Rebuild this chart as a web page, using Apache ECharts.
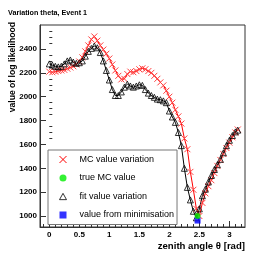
<!DOCTYPE html>
<html>
<head>
<meta charset="utf-8">
<script src="https://cdn.jsdelivr.net/npm/echarts@6/dist/echarts.min.js"></script>
<style>
html,body{margin:0;padding:0;background:#fff;}
#chart{width:267px;height:256px;}
</style>
</head>
<body>
<div id="chart"></div>
<script>
// ---- data ----
var theta = [0.00,0.05,0.10,0.15,0.20,0.25,0.30,0.35,0.40,0.45,0.50,0.55,0.60,0.65,0.70,0.75,0.80,0.85,0.90,0.95,
             1.00,1.05,1.10,1.15,1.20,1.25,1.30,1.35,1.40,1.45,1.50,1.55,1.60,1.65,1.70,1.75,1.80,1.85,1.90,1.95,
             2.00,2.05,2.10,2.15,2.20,2.25,2.30,2.35,2.40,2.45,2.50,2.55,2.60,2.65,2.70,2.75,2.80,2.85,2.90,2.95,
             3.00,3.05,3.10,3.14];
var mcValues = [2210,2205,2210,2215,2220,2225,2235,2245,2255,2270,2295,2330,2380,2430,2480,2505,2470,2430,2395,2360,
                2320,2270,2220,2175,2145,2150,2190,2210,2205,2215,2230,2238,2230,2215,2200,2175,2150,2120,2095,2050,
                2000,1950,1890,1835,1775,1650,1560,1370,1220,1060,1000,1110,1190,1250,1300,1360,1420,1470,1520,1570,
                1615,1660,1700,1725];
var fitValues = [2275,2265,2255,2250,2255,2275,2300,2308,2290,2280,2285,2300,2340,2380,2405,2425,2410,2370,2300,2220,
                 2140,2060,2010,2010,2040,2080,2105,2090,2080,2090,2100,2095,2060,2030,2010,1995,1980,1975,1965,1950,
                 1880,1830,1785,1700,1590,1400,1240,1135,1040,985,1060,1170,1225,1285,1340,1390,1430,1475,1530,1590,
                 1635,1675,1705,1720];
var trueMC = [[2.47, 1000]];
var minimisation = [[2.47, 962]];
var seriesNames = ['MC value variation','true MC value','fit value variation','value from minimisation'];
var xTickLabels = [0, 0.5, 1, 1.5, 2, 2.5, 3];
var yTickLabels = [1000, 1200, 1400, 1600, 1800, 2000, 2200, 2400];
var titleText = 'Variation theta, Event 1';
var xTitle = 'zenith angle \u03b8 [rad]';
var yTitle = 'value of log likelihood';

// ---- build ----
function zip(xs, ys){ return xs.map(function(x,i){ return [x, ys[i]]; }); }
var xMin = -0.155, xMax = 3.26, yMin = 908, yMax = 2601;
var xMinor = [], yMinor = [];
for (var i = -1; i <= 32; i++) { var v = i/10; if (i % 5 !== 0 && v > xMin && v < xMax) xMinor.push(v); }
for (var j = 19; j <= 52; j++) { var w = j*50; if (w % 200 !== 0 && w > yMin && w < yMax) yMinor.push(w); }

var XPATH = 'path://M0,0L10,10M10,0L0,10';
var TRI = 'path://M5,0L10,9L0,9Z';
var font = 'Liberation Sans, Arial, Helvetica, sans-serif';

var chart = echarts.init(document.getElementById('chart'), null, {renderer:'canvas'});
chart.setOption({
  animation: false,
  backgroundColor: '#fff',
  title: { text: titleText, left: 3, top: 5, textStyle: { fontFamily: font, fontSize: 7.2, fontWeight: 'bold', color: '#000' } },
  grid: { left: 40, top: 25, right: 22, bottom: 29, show: true, borderColor: '#333', borderWidth: 1, backgroundColor: 'transparent' },
  xAxis: [
    { type: 'value', min: xMin, max: xMax, splitLine: { show: false },
      axisLine: { show: true, onZero: false, lineStyle: { color: '#333', width: 1 } },
      axisTick: { show: true, inside: true, length: 6, customValues: xTickLabels, lineStyle: { color: '#333' } },
      axisLabel: { customValues: xTickLabels, margin: 4, fontFamily: font, fontSize: 8, fontWeight: 'bold', color: '#000',
                   formatter: function(v){ return String(v); } } },
    { type: 'value', min: xMin, max: xMax, position: 'bottom', splitLine: { show: false },
      axisLine: { show: false },
      axisTick: { show: true, inside: true, length: 3, customValues: xMinor, lineStyle: { color: '#333' } },
      axisLabel: { show: false } }
  ],
  yAxis: [
    { type: 'value', min: yMin, max: yMax, splitLine: { show: false },
      axisLine: { show: true, onZero: false, lineStyle: { color: '#333', width: 1 } },
      axisTick: { show: true, inside: true, length: 6, customValues: yTickLabels, lineStyle: { color: '#333' } },
      axisLabel: { customValues: yTickLabels, margin: 3, fontFamily: font, fontSize: 8, fontWeight: 'bold', color: '#000',
                   formatter: function(v){ return String(v); } } },
    { type: 'value', min: yMin, max: yMax, position: 'left', splitLine: { show: false },
      axisLine: { show: false },
      axisTick: { show: true, inside: true, length: 3, customValues: yMinor, lineStyle: { color: '#333' } },
      axisLabel: { show: false } }
  ],
  legend: {
    orient: 'vertical', left: 48, top: 150,
    padding: [4, 3, 4, 11], itemGap: 7.5, itemWidth: 7, itemHeight: 7,
    backgroundColor: '#fff', borderColor: '#777', borderWidth: 1, borderRadius: 0,
    textStyle: { fontFamily: font, fontSize: 9, color: '#000', padding: [0, 0, 0, 8], lineHeight: 11 },
    data: [
      { name: seriesNames[0], icon: XPATH, itemStyle: { color: 'rgba(0,0,0,0)', borderColor: '#ff0000', borderWidth: 1 } },
      { name: seriesNames[1], icon: 'circle', itemStyle: { color: '#00ee00', borderWidth: 0 } },
      { name: seriesNames[2], icon: TRI, itemStyle: { color: 'rgba(0,0,0,0)', borderColor: '#000', borderWidth: 0.8 } },
      { name: seriesNames[3], icon: 'rect', itemStyle: { color: '#0000ff', borderWidth: 0 } }
    ]
  },
  graphic: [
    { type: 'text', x: 245, y: 246, style: { text: xTitle, textAlign: 'right', textVerticalAlign: 'middle', font: 'bold 9.6px ' + font, fill: '#000' } },
    { type: 'text', x: 13, y: 22, rotation: Math.PI / 2, style: { text: yTitle, textAlign: 'right', textVerticalAlign: 'middle', font: 'bold 8.6px ' + font, fill: '#000' } }
  ],
  series: [
    { name: seriesNames[0], type: 'line', xAxisIndex: 0, yAxisIndex: 0, data: zip(theta, mcValues),
      symbol: XPATH, symbolSize: 6, showSymbol: true, showAllSymbol: true,
      lineStyle: { color: '#ff0000', width: 1 },
      itemStyle: { color: 'rgba(0,0,0,0)', borderColor: '#ff4040', borderWidth: 1 } },
    { name: seriesNames[2], type: 'line', xAxisIndex: 0, yAxisIndex: 0, data: zip(theta, fitValues),
      symbol: TRI, symbolSize: 6, showSymbol: true, showAllSymbol: true,
      lineStyle: { color: '#000', width: 1 },
      itemStyle: { color: 'rgba(0,0,0,0)', borderColor: '#000', borderWidth: 0.8 } },
    { name: seriesNames[1], type: 'scatter', xAxisIndex: 0, yAxisIndex: 0, data: trueMC,
      symbol: 'circle', symbolSize: 6, itemStyle: { color: '#00ee00' }, z: 5 },
    { name: seriesNames[3], type: 'scatter', xAxisIndex: 0, yAxisIndex: 0, data: minimisation,
      symbol: 'rect', symbolSize: 6, itemStyle: { color: '#0000ff' }, z: 4 }
  ]
});
</script>
</body>
</html>
